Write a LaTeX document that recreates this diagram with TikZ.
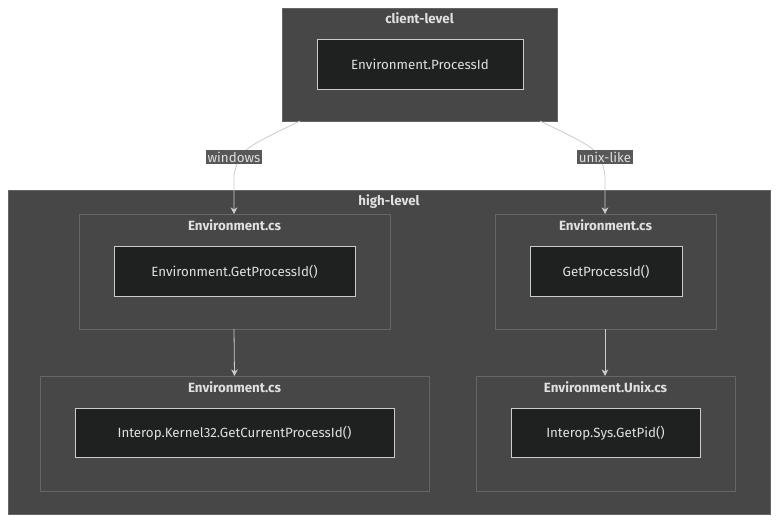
\documentclass[tikz,border=0pt]{standalone}
\usepackage{fontspec}
\setmainfont{Fira Sans}
\usetikzlibrary{arrows.meta}
\definecolor{clfill}{HTML}{474747}
\definecolor{clline}{HTML}{666666}
\definecolor{nfill}{HTML}{1F2020}
\definecolor{txt}{HTML}{E0E0E0}
\definecolor{edge}{HTML}{CCCCCC}
\definecolor{lblfill}{HTML}{585858}
\begin{document}
\begin{tikzpicture}[x=0.75pt,y=-0.75pt,
  cluster/.style={draw=clline,fill=clfill,line width=0.6pt},
  ttl/.style={text=txt,font=\fontsize{10}{12}\selectfont\bfseries,anchor=center},
  box/.style={draw=edge,fill=nfill,line width=0.6pt,text=txt,font=\fontsize{10}{12}\selectfont,minimum height=37pt},
  lbl/.style={fill=lblfill,text=txt,font=\fontsize{10}{12}\selectfont,inner sep=1.5pt},
  conn/.style={draw=edge,line width=0.6pt,-{Stealth[length=5pt,width=5pt]}}]
\useasboundingbox (0,0) rectangle (784,528);
\fill[white] (0,0) rectangle (784,528);
% clusters
\draw[cluster] (282,8) rectangle (557,121);
\node[ttl] (tclient) at (419.5,18) {client-level};
\draw[cluster] (8,190) rectangle (770,514);
\node[ttl] (thigh) at (389,202) {high-level};
\draw[cluster] (79,214) rectangle (390,329);
\node[ttl] (t1) at (234.5,225) {Environment.cs};
\draw[cluster] (495,214) rectangle (716,329);
\node[ttl] (t2) at (605.5,225) {Environment.cs};
\draw[cluster] (40,376) rectangle (429,491);
\node[ttl] (t3) at (234.5,387) {Environment.cs};
\draw[cluster] (476,376) rectangle (735,491);
\node[ttl] (t4) at (605.5,387) {Environment.Unix.cs};
% nodes
\node[box,minimum width=154.5pt] (pid) at (420,64.5) {Environment.ProcessId};
\node[box,minimum width=180.75pt] (gpw) at (234.5,271.5) {Environment.GetProcessId()};
\node[box,minimum width=114pt] (gpu) at (606,271.5) {GetProcessId()};
\node[box,minimum width=239.25pt] (k32) at (234.5,433) {Interop.Kernel32.GetCurrentProcessId()};
\node[box,minimum width=141.75pt] (sys) at (605.5,433) {Interop.Sys.GetPid()};
% edges
\coordinate (cw) at (300,121);
\coordinate (cu) at (540,121);
\coordinate (ew) at (234,214);
\coordinate (eu) at (605,214);
\draw[conn] (cw) .. controls (240,150) .. (234,175) -- (ew);
\draw[conn] (cu) .. controls (600,150) .. (605,175) -- (eu);
\node[lbl] (lw) at (234,157) {windows};
\node[lbl] (lu) at (605,157) {unix-like};
\draw[conn] (234,329) -- (k32.north |- 0,376);
\draw[conn] (605,329) -- (605,376);
\end{tikzpicture}
\end{document}
